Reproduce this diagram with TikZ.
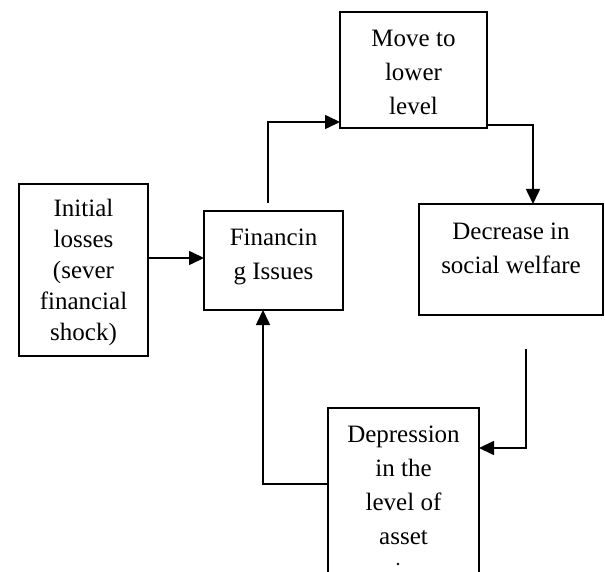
\documentclass[tikz,border=0pt]{standalone}
\usepackage{fontspec}
\setmainfont{Liberation Serif}
\usetikzlibrary{arrows.meta}
\tikzset{
  boxnode/.style={draw=black, line width=1.6pt, inner sep=0pt, outer sep=0pt},
  txt/.style={align=center, anchor=north, inner sep=0pt, font=\fontsize{25}{34}\selectfont},
  conn/.style={draw=black, line width=1.6pt},
  arr/.style={conn, -{Triangle[length=15pt,width=14pt]}}
}
\begin{document}
\begin{tikzpicture}[x=1pt,y=-1pt]
\useasboundingbox (0,0) rectangle (605,572);
\clip (0,0) rectangle (605,572);
% boxes
\node[boxnode, minimum width=129pt, minimum height=172pt] (init) at (83.5,270) {};
\node[boxnode, minimum width=139pt, minimum height=99pt] (fin) at (273.5,260.5) {};
\node[boxnode, minimum width=147pt, minimum height=116pt] (move) at (413.5,70) {};
\node[boxnode, minimum width=184pt, minimum height=111pt] (dec) at (511,259.5) {};
\node[boxnode, minimum width=151pt, minimum height=192pt] (dep) at (403.5,504) {};
% texts
\node[txt, font=\fontsize{25}{31}\selectfont] (tinit) at (83.5,199) {Initial\\losses\\(sever\\financial\\shock)};
\node[txt] (tfin) at (273.5,229) {Financin\\g Issues};
\node[txt] (tmove) at (413.5,30) {Move to\\lower\\level};
\node[txt] (tdec) at (511,223) {Decrease in\\social welfare};
\node[txt] (tdep) at (403.5,426) {Depression\\in the\\level of\\asset};
\fill[black] (398,564) circle (1.4pt);
% connectors
\draw[arr] (init.east |- 0,258) -- (fin.west |- 0,258);
\coordinate (f1) at (268,203);
\draw[arr] (f1) |- (move.west |- 0,122);
\coordinate (m1) at (533,125);
\draw[arr] (move.east |- m1) -| (dec.north -| m1);
\coordinate (d1) at (526,349);
\draw[arr] (d1) |- (dep.east |- 0,448);
\coordinate (p1) at (263,484);
\draw[arr] (dep.west |- p1) -| (fin.south -| p1);
\end{tikzpicture}
\end{document}
